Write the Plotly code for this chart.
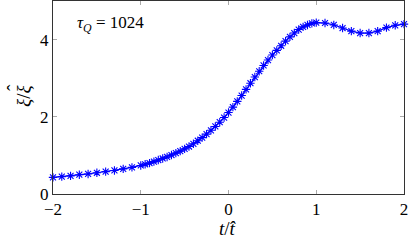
import plotly.graph_objects as go

t_vals = [-2.0, -1.9, -1.8, -1.7, -1.6, -1.5, -1.4, -1.3, -1.2, -1.1,
          -1.0, -0.95, -0.9, -0.85, -0.8, -0.75, -0.7, -0.65, -0.6, -0.55,
          -0.5, -0.45, -0.4, -0.35, -0.3, -0.25, -0.2, -0.15, -0.1, -0.05,
          0.0, 0.05, 0.1, 0.15, 0.2, 0.25, 0.3, 0.35, 0.4, 0.45,
          0.5, 0.55, 0.6, 0.65, 0.7, 0.75, 0.8, 0.85, 0.9, 0.95,
          1.0, 1.1, 1.2, 1.3, 1.4, 1.5, 1.6, 1.7, 1.8, 1.9, 2.0]
xi_vals = [0.43, 0.45, 0.47, 0.50, 0.52, 0.55, 0.58, 0.61, 0.65, 0.69,
           0.74, 0.77, 0.80, 0.84, 0.88, 0.92, 0.96, 1.01, 1.06, 1.11,
           1.17, 1.23, 1.30, 1.38, 1.46, 1.55, 1.65, 1.75, 1.86, 1.98,
           2.11, 2.25, 2.40, 2.55, 2.71, 2.87, 3.03, 3.18, 3.33, 3.47,
           3.60, 3.72, 3.84, 3.96, 4.07, 4.17, 4.26, 4.33, 4.38, 4.42,
           4.44, 4.43, 4.38, 4.30, 4.22, 4.17, 4.17, 4.22, 4.31, 4.37, 4.40]

x_ticks = [-2, -1, 0, 1, 2]
x_tick_labels = ["−2", "−1", "0", "1", "2"]
y_ticks = [0, 2, 4]
y_tick_labels = ["0", "2", "4"]

serif = "Liberation Serif"

W, H = 415, 241
ML, MR, MT, MB = 53, 11, 1, 47
PW, PH = W - ML - MR, H - MT - MB


def px(xp):
    return (xp - ML) / PW


def py(yp):
    return 1 - (yp - MT) / PH


fig = go.Figure()
fig.add_trace(go.Scatter(
    x=t_vals, y=xi_vals, mode="lines+markers",
    line=dict(color="#0000ff", width=1.2),
    marker=dict(symbol="asterisk-open", size=7, color="#0000ff",
                line=dict(color="#0000ff", width=1.1)),
    showlegend=False, cliponaxis=False, hoverinfo="skip",
))

axis_common = dict(
    showline=True, linecolor="#333333", linewidth=1, mirror="allticks",
    ticks="inside", ticklen=4, tickcolor="#aaaaaa", tickwidth=1,
    showgrid=False, zeroline=False,
    tickfont=dict(family=serif, size=17, color="#000000"),
)

fig.update_layout(
    width=W, height=H,
    margin=dict(l=ML, r=MR, t=MT, b=MB),
    paper_bgcolor="white", plot_bgcolor="white",
    font=dict(family=serif),
    xaxis=dict(range=[-2, 2], tickvals=x_ticks, ticktext=x_tick_labels, **axis_common),
    yaxis=dict(range=[0, 5], tickvals=y_ticks, ticktext=y_tick_labels, **axis_common),
    annotations=[
        dict(x=px(75), y=py(24), xref="paper", yref="paper", showarrow=False,
             text="<i>τ</i><sub><i>Q</i></sub> = 1024",
             font=dict(family=serif, size=17, color="#000"),
             xanchor="left", yanchor="middle"),
        dict(x=px(228), y=py(228), xref="paper", yref="paper", showarrow=False,
             text="<i>t</i>/<i>t̂</i>",
             font=dict(family=serif, size=19, color="#000"),
             xanchor="center", yanchor="middle"),
        dict(x=px(23), y=py(96), xref="paper", yref="paper", showarrow=False,
             text="<i>ξ</i>/<i>ξ</i>", textangle=-90,
             font=dict(family=serif, size=19, color="#000"),
             xanchor="center", yanchor="middle"),
        dict(x=px(13), y=py(88), xref="paper", yref="paper", showarrow=False,
             text="ˆ", textangle=-90,
             font=dict(family=serif, size=19, color="#000"),
             xanchor="center", yanchor="middle"),
    ],
)

fig.write_html("out.html", config={"displayModeBar": False, "staticPlot": True},
               post_script="document.body.style.margin='0';document.body.style.padding='0';")
